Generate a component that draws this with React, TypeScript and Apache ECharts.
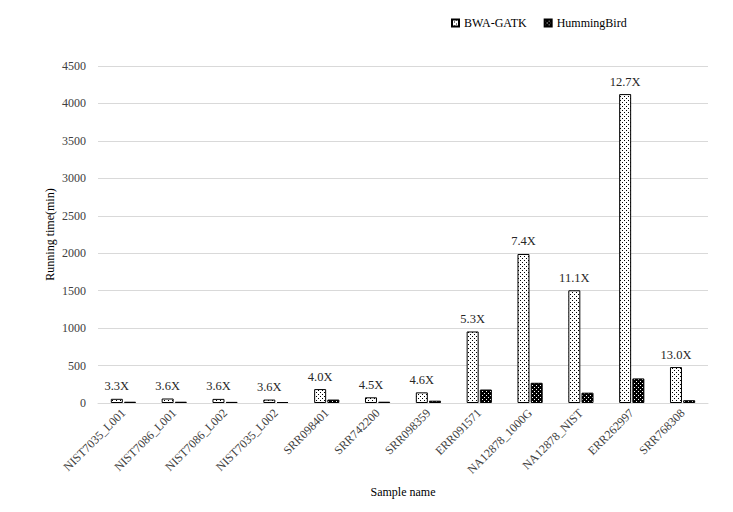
import React, { useEffect, useRef } from "react";
import * as echarts from "echarts";

const categories = [
  "NIST7035_L001",
  "NIST7086_L001",
  "NIST7086_L002",
  "NIST7035_L002",
  "SRR098401",
  "SRR742200",
  "SRR098359",
  "ERR091571",
  "NA12878_1000G",
  "NA12878_NIST",
  "ERR262997",
  "SRR768308",
];
const bwaGatk = [56, 60, 55, 46, 186, 76, 142, 955, 1990, 1505, 4125, 480];
const hummingBird = [17, 17, 15, 13, 46, 17, 31, 180, 270, 138, 328, 37];
const speedupLabels = ["3.3X", "3.6X", "3.6X", "3.6X", "4.0X", "4.5X", "4.6X", "5.3X", "7.4X", "11.1X", "12.7X", "13.0X"];
const yTicks = { min: 0, max: 4500, interval: 500 };

function makePattern(dark: boolean): HTMLCanvasElement {
  const c = document.createElement("canvas");
  c.width = 4;
  c.height = 4;
  const ctx = c.getContext("2d")!;
  ctx.fillStyle = dark ? "#000000" : "#ffffff";
  ctx.fillRect(0, 0, 4, 4);
  ctx.fillStyle = dark ? "#ffffff" : "#000000";
  if (dark) {
    ctx.fillRect(0, 1, 1, 1);
    ctx.fillRect(2, 3, 1, 1);
  } else {
    ctx.fillRect(0, 0, 1, 1);
    ctx.fillRect(2, 2, 1, 1);
  }
  return c;
}

export default function App() {
  const ref = useRef<HTMLDivElement>(null);
  useEffect(() => {
    if (!ref.current) return;
    document.body.style.margin = "0";
    const chart = echarts.init(ref.current, undefined, { renderer: "svg" });
    const font = "'Liberation Serif', 'Times New Roman', Times, serif";
    const lightPat = { image: makePattern(false), repeat: "repeat" };
    const darkPat = { image: makePattern(true), repeat: "repeat" };
    chart.setOption({
      animation: false,
      textStyle: { fontFamily: font },
      legend: {
        top: 12,
        left: 446,
        itemWidth: 7,
        itemHeight: 7,
        itemGap: 17,
        icon: "rect",
        textStyle: { fontFamily: font, fontSize: 12, color: "#000" },
        data: ["BWA-GATK", "HummingBird"],
      },
      grid: { left: 98, right: 25, top: 66, bottom: 109, containLabel: false },
      xAxis: {
        type: "category",
        data: categories,
        name: "Sample name",
        nameLocation: "middle",
        nameGap: 83,
        nameMoveOverlap: false,
        nameTextStyle: { fontFamily: font, fontSize: 12, color: "#000" },
        axisLine: { lineStyle: { color: "#d9d9d9" } },
        axisTick: { show: false },
        axisLabel: {
          rotate: 45,
          interval: 0,
          fontFamily: font,
          fontSize: 12,
          color: "#404040",
          margin: 8,
        },
      },
      yAxis: {
        type: "value",
        min: yTicks.min,
        max: yTicks.max,
        interval: yTicks.interval,
        name: "Running time(min)",
        nameLocation: "middle",
        nameGap: 42,
        nameMoveOverlap: false,
        nameTextStyle: { fontFamily: font, fontSize: 12, color: "#000" },
        axisLine: { show: false },
        axisTick: { show: false },
        axisLabel: {
          fontFamily: font,
          fontSize: 12,
          color: "#404040",
          margin: 12,
          formatter: (v: number) => String(v),
        },
        splitLine: { lineStyle: { color: "#d9d9d9" } },
      },
      series: [
        {
          name: "BWA-GATK",
          type: "bar",
          data: bwaGatk,
          barWidth: 12,
          barGap: "10%",
          itemStyle: { color: lightPat, borderColor: "#000", borderWidth: 1 },
          label: {
            show: true,
            position: "top",
            distance: 6,
            fontFamily: font,
            fontSize: 12.5,
            color: "#262626",
            formatter: (p: any) => speedupLabels[p.dataIndex],
          },
        },
        {
          name: "HummingBird",
          type: "bar",
          data: hummingBird,
          barWidth: 12,
          itemStyle: { color: darkPat, borderColor: "#000", borderWidth: 1 },
        },
      ],
    });
    return () => chart.dispose();
  }, []);
  return <div ref={ref} style={{ width: 733, height: 512 }} />;
}
